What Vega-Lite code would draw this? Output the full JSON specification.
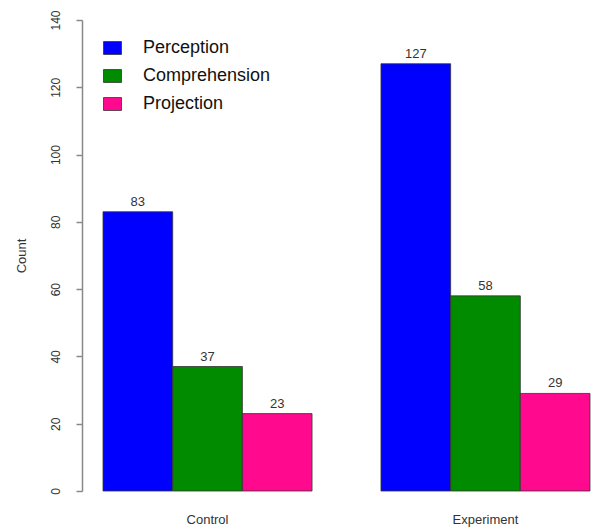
{
  "$schema": "https://vega.github.io/schema/vega-lite/v6.json",
  "autosize": "none",
  "width": 512,
  "height": 471,
  "padding": {"left": 82, "top": 20, "right": 0, "bottom": 38},
  "background": "white",
  "config": {"view": {"stroke": null}, "font": "Liberation Sans"},
  "data": {
    "values": [
      {"group": "Control", "type": "Perception", "count": 83},
      {"group": "Control", "type": "Comprehension", "count": 37},
      {"group": "Control", "type": "Projection", "count": 23},
      {"group": "Experiment", "type": "Perception", "count": 127},
      {"group": "Experiment", "type": "Comprehension", "count": 58},
      {"group": "Experiment", "type": "Projection", "count": 29}
    ]
  },
  "encoding": {
    "x": {
      "field": "group", "type": "nominal",
      "scale": {"paddingInner": 0.248, "paddingOuter": 0.045, "align": 0.84},
      "axis": {"title": null, "domain": false, "ticks": false, "labelAngle": 0, "labelFontSize": 13, "labelColor": "#333", "labelPadding": 22, "labelFont": "Liberation Sans"}
    },
    "xOffset": {
      "field": "type", "type": "nominal",
      "sort": ["Perception", "Comprehension", "Projection"],
      "scale": {"paddingInner": 0, "paddingOuter": 0}
    },
    "y": {
      "field": "count", "type": "quantitative",
      "scale": {"domain": [0, 140], "nice": false},
      "axis": {"title": "Count", "values": [0, 20, 40, 60, 80, 100, 120, 140], "grid": false,
        "labelAngle": -90, "labelFontSize": 12, "labelColor": "#333", "labelPadding": 14,
        "tickSize": 6, "tickColor": "#888", "domainColor": "#888", "domainWidth": 1.5, "tickWidth": 1.5,
        "titleFontWeight": "normal", "titleFontSize": 13, "titleColor": "#333", "titlePadding": 21}
    }
  },
  "layer": [
    {
      "mark": {"type": "bar", "stroke": "#333", "strokeWidth": 0.8},
      "encoding": {
        "color": {
          "field": "type", "type": "nominal",
          "sort": ["Perception", "Comprehension", "Projection"],
          "scale": {"domain": ["Perception", "Comprehension", "Projection"], "range": ["#0000FF", "#008B00", "#FF0A8E"]},
          "legend": {
            "title": null, "orient": "none", "legendX": 21, "legendY": 18.5, "padding": 0,
            "symbolType": "M-1,-0.72H1V0.72H-1Z", "symbolSize": 324, "symbolStrokeColor": "#333", "symbolStrokeWidth": 0.8, "symbolOpacity": 1,
            "labelFontSize": 18, "labelFont": "Liberation Sans", "labelColor": "#111", "labelOffset": 21, "rowPadding": 9, "labelLimit": 300
          }
        }
      }
    },
    {
      "mark": {"type": "text", "baseline": "bottom", "dy": -3, "fontSize": 13, "color": "#333"},
      "encoding": {"text": {"field": "count", "type": "quantitative"}}
    }
  ]
}
